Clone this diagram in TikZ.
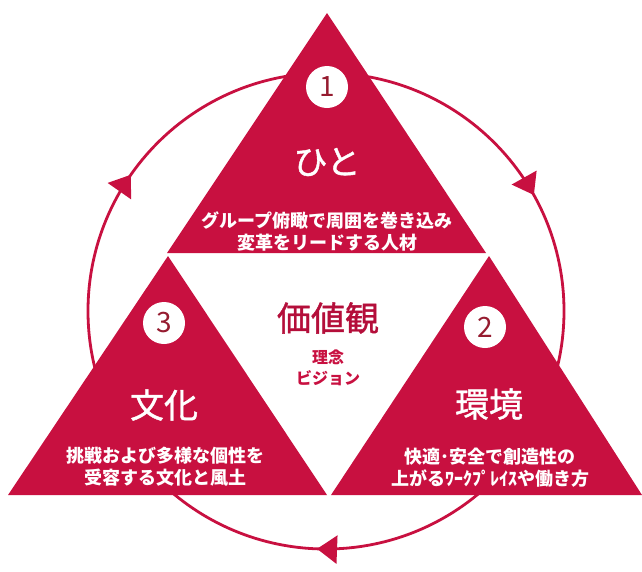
\documentclass[tikz,border=0pt]{standalone}
\usepackage{fontspec}
\newfontfamily\jp{Noto Sans CJK JP}
\newfontfamily\jpmed[FakeBold=1.2]{Noto Sans CJK JP}
\usetikzlibrary{arrows.meta,decorations.markings}

\definecolor{kurenai}{RGB}{200,16,64}
\definecolor{numred}{RGB}{150,28,48}

\begin{document}
\begin{tikzpicture}[x=1pt, y=-1pt, >={Triangle[length=20pt,width=28pt]},
  title/.style={text=white, font=\jpmed\fontsize{34}{34}\selectfont},
  sub/.style={text=white, font=\jp\bfseries\fontsize{18}{22}\selectfont, align=center},
  num/.style={circle, fill=white, minimum size=42pt, inner sep=0pt,
    text=numred, font=\jp\fontsize{28}{28}\selectfont}]

\useasboundingbox (0,0) rectangle (642,571);

% cycle
\coordinate (o) at (326,311);
\draw[kurenai, line width=2.8pt, postaction={decorate}, decoration={markings,
    mark=at position 0.256 with {\arrow{>}},
    mark=at position 0.597 with {\arrow{>}},
    mark=at position 0.919 with {\arrow{>}}}]
  (o) circle[radius=238];

% the three triangles
\fill[kurenai] (327,13)  -- (167,253) -- (486,253) -- cycle;
\fill[kurenai] (168,256) -- (8,495)   -- (327,495) -- cycle;
\fill[kurenai] (489,256) -- (331,495) -- (642,495) -- cycle;

\node[num] (n1) at (327,87)  {1};
\node[num] (n2) at (485,327) {2};
\node[num] (n3) at (164,323) {3};

\node[title] (hito)   at (327,162) {ひと};
\node[sub]   (hitoT)  at (327,231) {グループ俯瞰で周囲を巻き込み\\変革をリードする人材};

\node[title] (kankyo)  at (489,404) {環境};
\node[sub]   (kankyoT) at (490,468) {快適･安全で創造性の\\上がるﾜｰｸﾌﾟﾚｲｽや働き方};

\node[title] (bunka)  at (164,405) {文化};
\node[sub]   (bunkaT) at (165,467) {挑戦および多様な個性を\\受容する文化と風土};

% centre
\node[text=kurenai!90!black, font=\jpmed\fontsize{34}{34}\selectfont] (kachi) at (328,318) {価値観};
\node[text=kurenai, font=\jp\bfseries\fontsize{16}{21}\selectfont, align=center]
  (rinen) at (328,368) {理念\\ビジョン};

\end{tikzpicture}
\end{document}
